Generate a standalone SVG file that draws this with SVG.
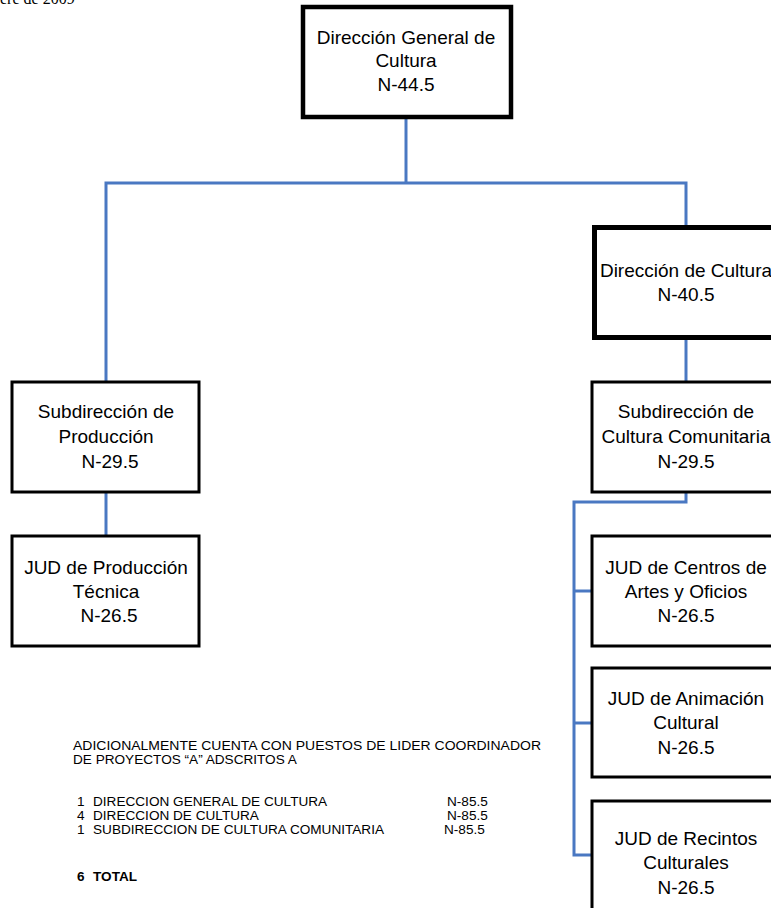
<svg xmlns="http://www.w3.org/2000/svg" width="771" height="908" viewBox="0 0 771 908">
<style>
.box{fill:#fff;stroke:#000;stroke-width:3}
.thick{stroke-width:5}
.t{font-family:"Liberation Sans",Arial,sans-serif;font-size:19px;fill:#000;text-anchor:middle}
.n{font-family:"Liberation Sans",Arial,sans-serif;font-size:13.6px;fill:#000}
.c{fill:none;stroke:#4a78c2;stroke-width:3}
</style>
<rect width="771" height="908" fill="#fff"/>
<text x="0" y="4" style="font-family:'Liberation Serif',serif;font-size:16px">ere de 2009</text>
<g id="connectors">
<polyline class="c" points="406,119 406,183"/>
<polyline class="c" points="106,382 106,183 686,183 686,228"/>
<polyline class="c" points="686,340 686,382"/>
<polyline class="c" points="106,492 106,536"/>
<polyline class="c" points="686,492 686,502 574,502 574,855 592,855"/>
<polyline class="c" points="574,591 592,591"/>
<polyline class="c" points="574,723 592,723"/>
</g>
<g id="n1">
<rect class="box" x="303" y="7" width="208" height="110" style="stroke-width:4.5"/>
<text class="t" x="406" y="44">Dirección General de</text>
<text class="t" x="406" y="67">Cultura</text>
<text class="t" x="406" y="91">N-44.5</text>
</g>
<g id="n2">
<rect class="box thick" x="594.5" y="227.5" width="220" height="110"/>
<text class="t" x="686" y="277">Dirección de Cultura</text>
<text class="t" x="686" y="301">N-40.5</text>
</g>
<g id="n3">
<rect class="box" x="12" y="382" width="187" height="110"/>
<text class="t" x="106" y="418">Subdirección de</text>
<text class="t" x="106" y="443">Producción</text>
<text class="t" x="110" y="468">N-29.5</text>
</g>
<g id="n4">
<rect class="box" x="12" y="536" width="187" height="110"/>
<text class="t" x="106" y="574">JUD de Producción</text>
<text class="t" x="106" y="598">Técnica</text>
<text class="t" x="109" y="622">N-26.5</text>
</g>
<g id="n5">
<rect class="box" x="592" y="382" width="220" height="110"/>
<text class="t" x="686" y="418">Subdirección de</text>
<text class="t" x="686" y="443">Cultura Comunitaria</text>
<text class="t" x="686" y="468">N-29.5</text>
</g>
<g id="n6">
<rect class="box" x="592" y="536" width="220" height="110"/>
<text class="t" x="686" y="574">JUD de Centros de</text>
<text class="t" x="686" y="598">Artes y Oficios</text>
<text class="t" x="686" y="622">N-26.5</text>
</g>
<g id="n7">
<rect class="box" x="592" y="668" width="220" height="109"/>
<text class="t" x="686" y="705">JUD de Animación</text>
<text class="t" x="686" y="729">Cultural</text>
<text class="t" x="686" y="754">N-26.5</text>
</g>
<g id="n8">
<rect class="box" x="592" y="801" width="220" height="130"/>
<text class="t" x="686" y="845">JUD de Recintos</text>
<text class="t" x="686" y="869">Culturales</text>
<text class="t" x="686" y="894">N-26.5</text>
</g>
<g id="notes">
<text class="n" x="73" y="750" textLength="468" lengthAdjust="spacingAndGlyphs">ADICIONALMENTE CUENTA CON PUESTOS DE LIDER COORDINADOR</text>
<text class="n" x="73" y="764">DE PROYECTOS “A” ADSCRITOS A</text>
<text class="n" x="77" y="806">1</text><text class="n" x="93" y="806">DIRECCION GENERAL DE CULTURA</text><text class="n" x="447" y="806">N-85.5</text>
<text class="n" x="77" y="820">4</text><text class="n" x="93" y="820">DIRECCION DE CULTURA</text><text class="n" x="447" y="820">N-85.5</text>
<text class="n" x="77" y="834">1</text><text class="n" x="93" y="834">SUBDIRECCION DE CULTURA COMUNITARIA</text><text class="n" x="444" y="834">N-85.5</text>
<text class="n" x="77" y="881" style="font-weight:bold">6</text><text class="n" x="93" y="881" style="font-weight:bold">TOTAL</text>
</g>
</svg>
